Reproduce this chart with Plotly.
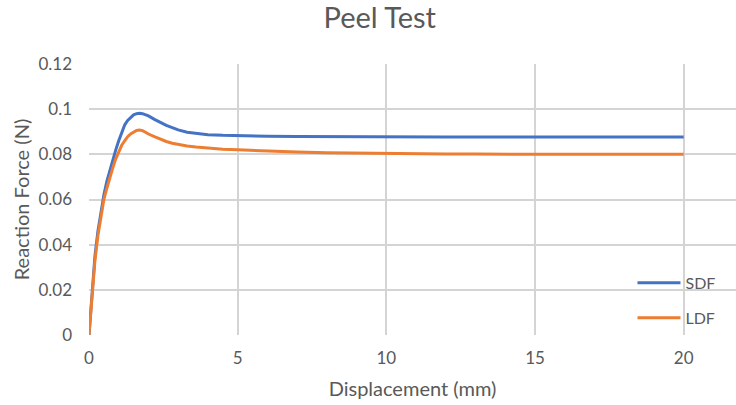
import plotly.graph_objects as go

displacement = [0, 0.1, 0.2, 0.3, 0.4, 0.5, 0.6, 0.7, 0.8, 0.9, 1.0, 1.1, 1.2, 1.3, 1.4, 1.5,
                1.6, 1.7, 1.8, 1.9, 2.0, 2.2, 2.4, 2.6, 2.8, 3.0, 3.3, 3.6, 4.0, 4.5, 5.0,
                6, 7, 8, 9, 10, 11, 12, 13, 14, 15, 16, 17, 18, 19, 20]

sdf = [0, 0.018, 0.035, 0.046, 0.055, 0.062, 0.068, 0.073, 0.078, 0.082, 0.086, 0.090, 0.093,
       0.095, 0.0965, 0.0975, 0.098, 0.0982, 0.098, 0.0975, 0.097, 0.0955, 0.0940, 0.0928,
       0.0918, 0.0908, 0.0898, 0.0892, 0.0887, 0.0884, 0.0882, 0.0880, 0.0879, 0.0878, 0.0877,
       0.0877, 0.0877, 0.0877, 0.0877, 0.0877, 0.0877, 0.0877, 0.0877, 0.0877, 0.0877, 0.0877]

ldf = [0, 0.017, 0.033, 0.044, 0.053, 0.060, 0.065, 0.070, 0.074, 0.078, 0.081, 0.084, 0.086,
       0.0878, 0.089, 0.0900, 0.0906, 0.0908, 0.0905, 0.0898, 0.0890, 0.0878, 0.0866, 0.0857,
       0.0849, 0.0843, 0.0837, 0.0832, 0.0827, 0.0823, 0.0820, 0.0814, 0.0810, 0.0807, 0.0805,
       0.0804, 0.0803, 0.0802, 0.0801, 0.0800, 0.0800, 0.0800, 0.0800, 0.0800, 0.0800, 0.0800]

x_ticks = [0, 5, 10, 15, 20]
y_ticks = [0, 0.02, 0.04, 0.06, 0.08, 0.1, 0.12]
y_labels = ["0", "0.02", "0.04", "0.06", "0.08", "0.1", "0.12"]

FONT = "Lato"
GRAY = "#595959"
GRID = "#d4d4d4"

fig = go.Figure()
fig.add_trace(go.Scatter(x=displacement, y=sdf, mode="lines", name="SDF",
                         line=dict(color="#4472C4", width=3), legend="legend"))
fig.add_trace(go.Scatter(x=displacement, y=ldf, mode="lines", name="LDF",
                         line=dict(color="#ED7D31", width=3), legend="legend2"))

legend_common = dict(font=dict(family=FONT, size=16, color=GRAY), bgcolor="rgba(0,0,0,0)",
                     xanchor="left", yanchor="middle", itemwidth=43, borderwidth=0)

fig.update_layout(
    width=736, height=405,
    showlegend=True,
    margin=dict(l=89, r=0, t=64, b=70),
    paper_bgcolor="white", plot_bgcolor="white",
    title=dict(text="Peel Test", x=0.516, xanchor="center", y=0.955, yanchor="middle",
               font=dict(family=FONT, size=29, color=GRAY)),
    legend=dict(x=0.84, y=0.192, **legend_common),
    legend2=dict(x=0.84, y=0.063, **legend_common),
    xaxis=dict(range=[0, 21.76], tickvals=x_ticks, showgrid=True, gridcolor=GRID, gridwidth=2,
               zeroline=False, showline=False, ticks="",
               tickfont=dict(family=FONT, size=17, color=GRAY), ticklabelstandoff=11,
               title=dict(text="Displacement (mm)", font=dict(family=FONT, size=20, color=GRAY),
                          standoff=14)),
    yaxis=dict(range=[0, 0.12], tickvals=y_ticks, ticktext=y_labels, showgrid=True,
               gridcolor=GRID, gridwidth=2, zeroline=False, showline=False, ticks="",
               tickfont=dict(family=FONT, size=17, color=GRAY), ticklabelstandoff=16,
               title=dict(text="Reaction Force (N)", font=dict(family=FONT, size=20, color=GRAY),
                          standoff=3)),
)

fig.write_html("out.html")
